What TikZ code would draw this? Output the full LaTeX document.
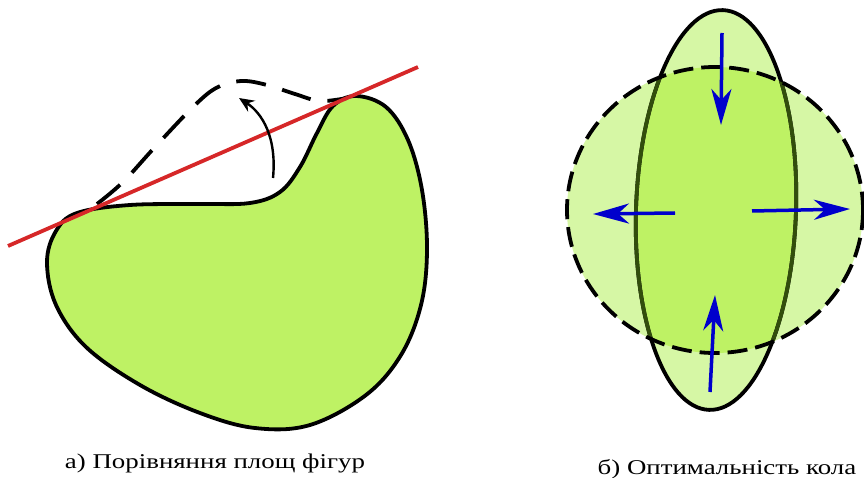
\documentclass[tikz,border=0pt]{standalone}
\usepackage{fontspec}
\setmainfont{Liberation Serif}[FakeStretch=1.28]
\usetikzlibrary{arrows.meta}
\definecolor{blobgreen}{RGB}{190,242,100}
\definecolor{palegreen}{RGB}{214,247,165}
\definecolor{olive}{RGB}{50,78,12}
\definecolor{tangred}{RGB}{214,39,40}
\definecolor{pushblue}{RGB}{0,0,204}
\tikzset{
  outline/.style={line width=3.8pt,line join=round},
  dashline/.style={line width=3.8pt,dash pattern=on 30pt off 17pt},
  push/.style={line width=3.5pt,pushblue,-{Stealth[length=36pt,width=20pt,inset=11pt]}},
  caption/.style={font=\fontsize{21}{25}\selectfont,anchor=base}
}
\begin{document}
\begin{tikzpicture}[x=1pt,y=-1pt,>=Stealth]
  \useasboundingbox (0,0) rectangle (864,478);
  \fill[white] (0,0) rectangle (864,478);
  \filldraw[fill=blobgreen,outline] plot[smooth cycle,tension=0.6] coordinates {
    (77,213) (130,205) (200,204) (250,203) (280,192) (300,167) (317,133)
    (333,106) (356,96) (386,107) (408,140) (422,190) (427,250) (421,305)
    (401,355) (366,395) (310,425) (255,428) (200,413) (140,385) (86,347)
    (56,305) (47,262) (56,231)};
  \draw[dashline] plot[smooth,tension=0.6] coordinates {
    (97,204) (123,182) (155,147) (195,105) (218,87) (242,81) (267,85)
    (295,94) (320,101) (347,98)};
  \draw[tangred,line width=3.8pt] (8,246) -- (418,67);
  \coordinate (bend0) at (273,178);
  \coordinate (bend1) at (239,98);
  \draw[-{Stealth[length=15pt,width=13pt,inset=5pt]},line width=2.4pt]
    (bend0) .. controls (277,137) and (262,113) .. (bend1);
  \fill[palegreen] (716,210) ellipse[x radius=80,y radius=200,rotate=-2];
  \fill[palegreen] (715,210) ellipse[x radius=148,y radius=143];
  \begin{scope}
    \clip (715,210) ellipse[x radius=148,y radius=143];
    \fill[blobgreen] (716,210) ellipse[x radius=80,y radius=200,rotate=-2];
  \end{scope}
  \draw[outline] (716,210) ellipse[x radius=80,y radius=200,rotate=-2];
  \begin{scope}
    \clip (715,210) ellipse[x radius=148,y radius=143];
    \draw[outline,olive] (716,210) ellipse[x radius=80,y radius=200,rotate=-2];
  \end{scope}
  \draw[dashline,dash pattern=on 20pt off 8pt] (715,210) ellipse[x radius=148,y radius=143];
  \coordinate (inN0) at (722,33);   \coordinate (inN1) at (721,125);
  \coordinate (inS0) at (710,392);  \coordinate (inS1) at (715,295);
  \coordinate (outW0) at (675,213); \coordinate (outW1) at (593,214);
  \coordinate (outE0) at (752,211); \coordinate (outE1) at (850,209);
  \draw[push] (inN0) -- (inN1);
  \draw[push] (inS0) -- (inS1);
  \draw[push] (outW0) -- (outW1);
  \draw[push] (outE0) -- (outE1);
  \node[caption] (capA) at (215,468) {а) Порівняння площ фігур};
  \node[caption] (capB) at (727,474) {б) Оптимальність кола};
\end{tikzpicture}
\end{document}
